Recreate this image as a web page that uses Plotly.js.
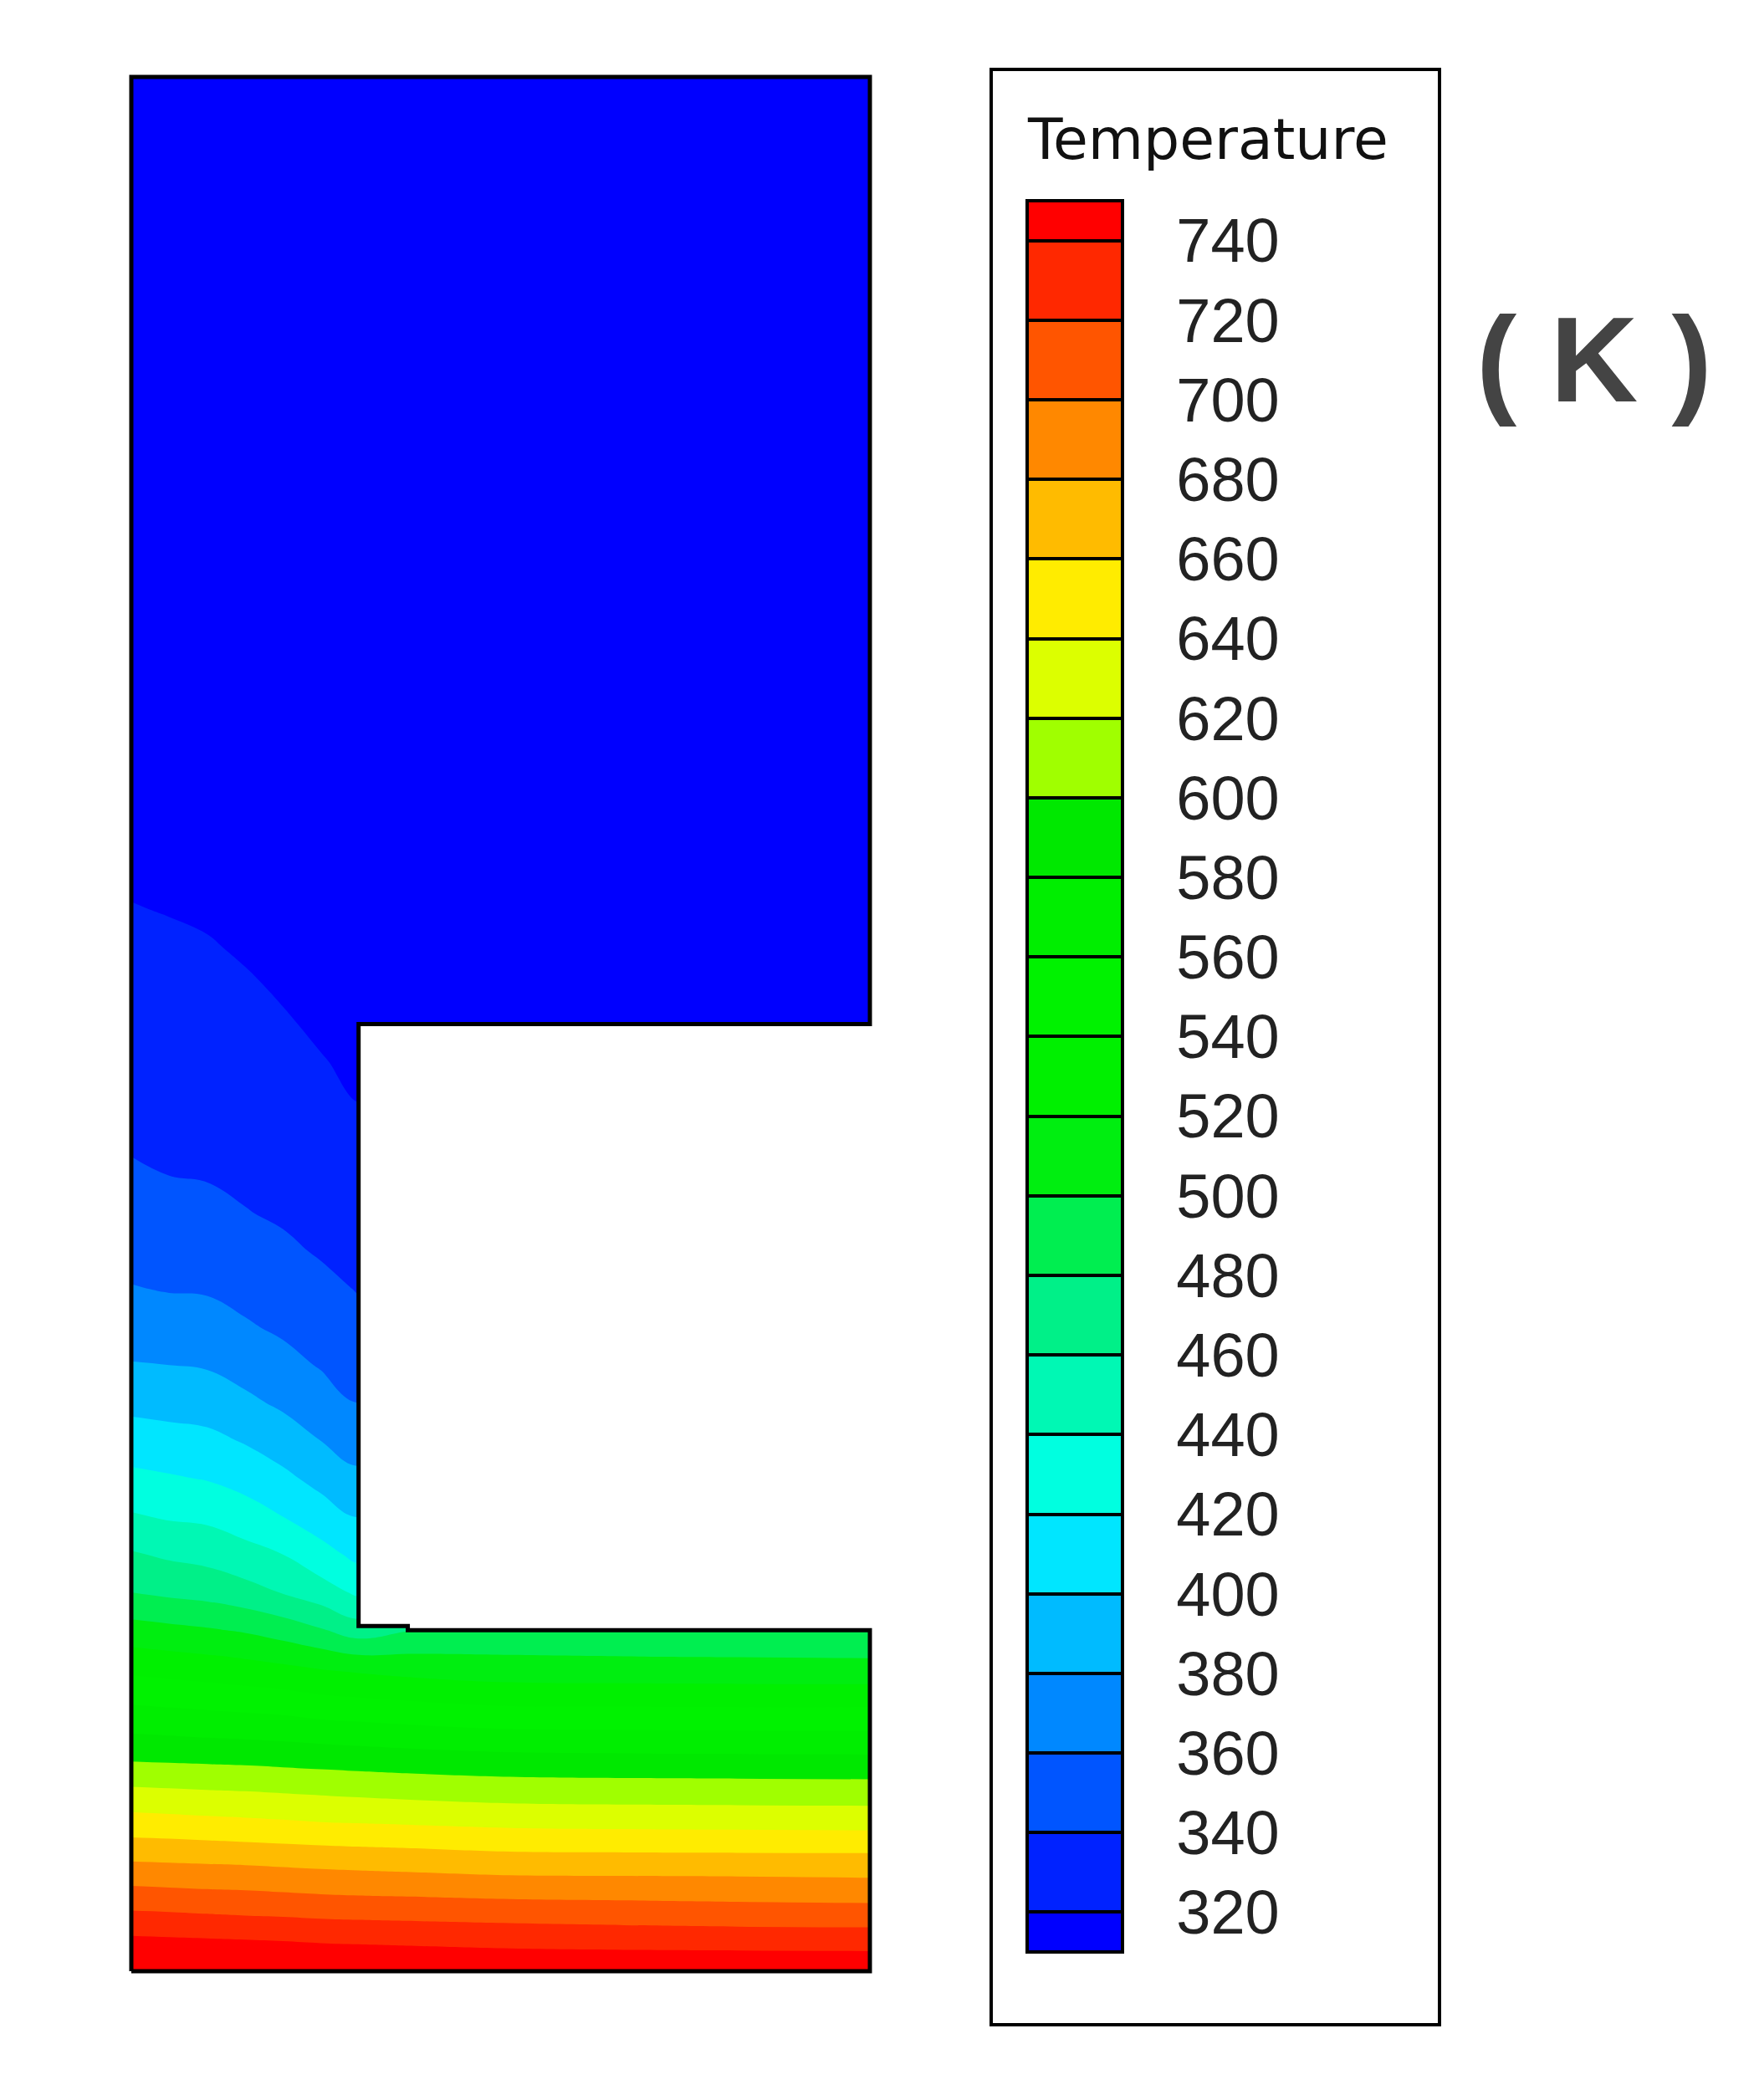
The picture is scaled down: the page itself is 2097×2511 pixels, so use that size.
<!DOCTYPE html>
<html>
<head>
<meta charset="utf-8">
<script src="https://cdn.plot.ly/plotly-3.0.1.min.js"></script>
<style>
  html, body { margin: 0; padding: 0; background: #fff; }
  #chart { width: 2097px; height: 2511px; }
</style>
</head>
<body>
<div id="chart"></div>
<script>
/* Temperature field (K), grid in mm */
var xs = [0, 1, 2, 3, 4, 5, 6, 7.5, 10, 13, 16, 19.5];
var ys = [0, 0.5, 1, 1.5, 2, 2.5, 3, 3.5, 4, 4.5, 5, 5.5, 6, 7, 8, 9,
          10, 11, 12, 13, 14, 15, 16, 17, 18, 19, 20, 21, 22, 23, 24,
          25, 26, 27, 28, 29, 30, 35, 42, 50];
var N = null; // inside the notch, no material
var temperature = [
  [768, 767, 766, 765.5, 764.5, 763.5, 762, 760, 758, 757, 756.5, 756],
  [753, 752, 751, 750, 748.5, 747.5, 746.5, 745, 743, 742, 741.5, 741],
  [738, 737, 736, 735, 734, 732, 731, 730, 728, 726.5, 725.5, 725],
  [723, 722, 720.5, 719, 718, 716.5, 715.5, 714.5, 713, 711.5, 710, 709],
  [708, 706.5, 705, 704, 702.5, 701, 700, 699, 697, 696, 695, 694],
  [692, 691, 690, 689, 687.5, 686, 685, 683.5, 681, 680.5, 680, 679],
  [677, 676, 675, 674, 672.5, 671, 669.5, 668, 665, 664.5, 664.2, 664],
  [661, 660, 658.5, 657, 655.5, 654, 653, 651.5, 649, 648, 647.5, 647],
  [646, 644.5, 643, 641.5, 640, 638, 637, 635.5, 633, 632, 631.5, 631],
  [631, 629.5, 628, 627, 625.5, 624, 622.5, 620.5, 618, 617, 616.5, 616],
  [616, 615, 614, 613, 611.5, 610, 608.5, 606.5, 604, 603, 602.5, 602],
  [601, 600, 599, 598, 596.5, 595, 593.5, 591.5, 589, 588, 587.5, 587],
  [587, 586, 584.5, 583.5, 582, 580, 578.5, 576, 573, 572, 571.5, 571],
  [561, 559, 557, 555, 553, 549, 547, 544, 540, 539.5, 539, 539],
  [535, 532.5, 530, 527, 523.5, 519, 516, 512, 508, 507, 506.5, 506],
  [508, 505, 502, 498, 491, 482, 470, 480, 485, 484.5, 484, 483],
  [480, 476, 473, 467, 459, 449, 436.5, N, N, N, N, N],
  [462, 457, 453.6, 447, 440, 427, 415, N, N, N, N, N],
  [442, 438, 436, 429, 420, 409.6, 398.6, N, N, N, N, N],
  [425, 422, 419, 413, 404.6, 394, 384, N, N, N, N, N],
  [409, 407, 405, 398.6, 390, 380, 372, N, N, N, N, N],
  [395, 393, 391, 384, 376.8, 369, 360, N, N, N, N, N],
  [381, 380, 378.4, 372.6, 366, 358.6, 352.9, N, N, N, N, N],
  [371, 369.5, 368, 362, 357, 351.4, 345.7, N, N, N, N, N],
  [361, 359, 358.3, 354.5, 350, 344.3, 339.2, N, N, N, N, N],
  [354, 353, 351.5, 347.6, 342.9, 338.6, 335.3, N, N, N, N, N],
  [348, 346.5, 344.7, 340.7, 338, 335, 331.4, N, N, N, N, N],
  [342, 340, 339, 337, 334.7, 331.4, 327.5, N, N, N, N, N],
  [338, 337, 336, 334, 331.3, 327.9, 323.5, N, N, N, N, N],
  [335, 334, 333, 331, 328, 324.3, 319.6, N, N, N, N, N],
  [332, 331, 330, 328, 324.7, 320.7, 317.5, N, N, N, N, N],
  [329, 328, 327, 324.7, 321.3, 318, 316, 315, 314, 313.5, 313, 312.5],
  [326, 325, 324, 321.6, 318.5, 316.5, 315, 314.5, 313.5, 313, 312.5, 312],
  [323.5, 322.4, 321.2, 318.5, 316.5, 315, 314.5, 314, 313, 312.5, 312, 311.5],
  [320.6, 319.5, 318, 316.5, 315, 314, 313.5, 313.5, 312.5, 312, 311.5, 311.5],
  [318, 317, 316, 315, 314, 313.5, 313, 313, 312.5, 312, 311.5, 311],
  [316, 315.5, 315, 314.5, 313.5, 313, 312.5, 312.5, 312, 311.5, 311, 311],
  [313.5, 313.5, 313, 313, 312.5, 312.5, 312, 312, 311.5, 311.5, 311, 311],
  [312, 312, 312, 311.5, 311.5, 311.5, 311.5, 311.5, 311, 311, 311, 311],
  [311, 311, 311, 311, 311, 311, 311, 311, 311, 311, 311, 311]
];

// contour levels shown on the legend (K)
var levels = [320, 340, 360, 380, 400, 420, 440, 460, 480, 500, 520,
              540, 560, 580, 600, 620, 640, 660, 680, 700, 720, 740];
var zLow = 310, zHigh = 750;
// one colour per band, from below 320 up to above 740
var bandColors = ['#0000ff', '#0022ff', '#0055ff', '#0088ff', '#00bbff', '#00e6ff',
                  '#00ffe0', '#00f8b4', '#00f088', '#00ee50', '#00ee10', '#00f000',
                  '#00f200', '#00ee00', '#00e800', '#a0ff00', '#dcff00', '#ffec00',
                  '#ffbb00', '#ff8800', '#ff5500', '#ff2800', '#ff0000'];

// part outline and the cut-out (mm)
var outlineX = [0, 19.5, 19.5, 7.3, 7.3, 6, 6, 19.5, 19.5, 0, 0];
var outlineY = [0, 0, 9, 9, 9.11, 9.11, 25, 25, 50, 50, 0];
var notchX = [6, 19.6, 19.6, 7.3, 7.3, 6, 6];
var notchY = [25, 25, 9, 9, 9.11, 9.11, 25];

/* page geometry (pixels) */
var W = 2097, H = 2511;
function fx(px) { return px / W; }
function fy(py) { return 1 - py / H; }
var mmPx = 45.28;
var pad = 0.15;

var scale = bandColors.map(function(c, i) { return [i / (bandColors.length - 1), c]; });
var step = levels[1] - levels[0];

var field = {
    type: 'contour', x: xs, y: ys, z: temperature,
    autocontour: false,
    contours: {start: levels[0], end: levels[levels.length - 1], size: step,
               coloring: 'fill', showlines: false},
    colorscale: scale, zauto: false, zmin: zLow, zmax: zHigh,
    line: {width: 0, smoothing: 1.2},
    showscale: false, hoverinfo: 'skip'
};

// invisible copy that carries the banded legend with its black level lines
var legendCarrier = {
    type: 'contour', x: xs, y: ys, z: temperature,
    autocontour: false,
    contours: {start: levels[0], end: levels[levels.length - 1], size: step,
               coloring: 'fill', showlines: true},
    colorscale: scale, zauto: false, zmin: zLow, zmax: zHigh,
    line: {color: '#000', width: 4, smoothing: 1.2},
    opacity: 0, hoverinfo: 'skip',
    showscale: true,
    colorbar: {
        x: fx(1228), xanchor: 'left', xpad: 0,
        y: fy(240), yanchor: 'top', ypad: 0,
        lenmode: 'pixels', len: 2094,
        thicknessmode: 'pixels', thickness: 114,
        outlinewidth: 4, outlinecolor: '#000', borderwidth: 0,
        tickmode: 'array', tickvals: levels, ticktext: levels.map(String),
        ticks: 'outside', ticklen: 48, tickwidth: 1, tickcolor: 'rgba(0,0,0,0)',
        tickfont: {family: 'Liberation Sans, Arial, sans-serif', size: 74, color: '#222'},
        title: {text: ''}
    }
};

var notch = {
    type: 'scatter', x: notchX, y: notchY, mode: 'lines',
    fill: 'toself', fillcolor: '#ffffff', line: {width: 0},
    hoverinfo: 'skip'
};

var outline = {
    type: 'scatter', x: outlineX, y: outlineY, mode: 'lines',
    line: {color: '#000', width: 5},
    hoverinfo: 'skip'
};

var layout = {
    width: W, height: H,
    margin: {l: 0, r: 0, t: 0, b: 0},
    paper_bgcolor: '#fff', plot_bgcolor: 'rgba(0,0,0,0)',
    showlegend: false,
    xaxis: {range: [-pad, 19.5 + pad], visible: false, fixedrange: true,
            domain: [fx(157 - pad * mmPx), fx(1040 + pad * mmPx)]},
    yaxis: {range: [-pad, 50 + pad], visible: false, fixedrange: true,
            domain: [fy(2357 + pad * mmPx), fy(92 - pad * mmPx)]},
    shapes: [
        {type: 'rect', xref: 'paper', yref: 'paper',
         x0: fx(1185), x1: fx(1721), y0: fy(2421), y1: fy(83),
         line: {color: '#000', width: 4}, fillcolor: 'rgba(0,0,0,0)'}
    ],
    annotations: [
        {text: 'Temperature', xref: 'paper', yref: 'paper',
         x: fx(1226), y: fy(166), xanchor: 'left', yanchor: 'middle', showarrow: false,
         font: {family: 'DejaVu Sans, sans-serif', size: 68, color: '#111'}},
        {text: '( K )', xref: 'paper', yref: 'paper',
         x: fx(1906), y: fy(430), xanchor: 'center', yanchor: 'middle', showarrow: false,
         font: {family: 'Liberation Sans, Arial, sans-serif', size: 145, color: '#444', weight: 'bold'}}
    ]
};

Plotly.newPlot('chart', [field, legendCarrier, notch, outline], layout,
               {staticPlot: true, displayModeBar: false});
</script>
</body>
</html>
